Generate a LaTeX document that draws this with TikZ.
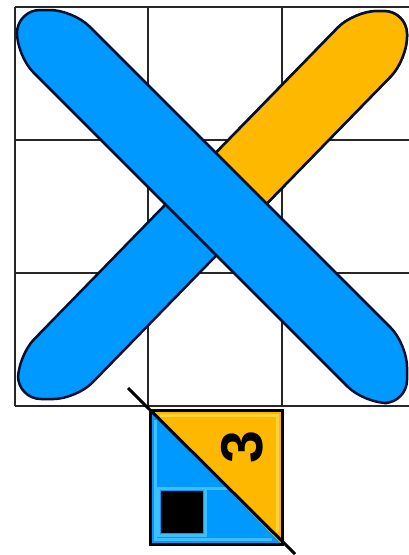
\documentclass[tikz,border=0pt]{standalone}
\usepackage{fontspec}
\newfontfamily\digitfont{Liberation Sans}
\definecolor{capblue}{RGB}{0,153,255}
\definecolor{caporange}{RGB}{255,184,0}
\definecolor{lightblue}{RGB}{60,190,255}
\definecolor{lightorange}{RGB}{255,212,50}
\definecolor{gridgray}{RGB}{38,38,38}
\definecolor{navy}{RGB}{5,15,50}
\tikzset{
  gridline/.style={draw=gridgray, line width=2.6pt},
  capblueshape/.style={fill=capblue, draw=navy, line width=2.5pt, rounded corners=23pt},
  caporangeshape/.style={fill=caporange, draw=navy, line width=2.5pt, rounded corners=23pt},
}
\begin{document}
\begin{tikzpicture}[x=1pt,y=-1pt]
\useasboundingbox (0,0) rectangle (408,555);
\fill[white] (0,0) rectangle (408,555);
% grid
\foreach \gx in {15,148,282,416} \draw[gridline] (\gx,7) -- (\gx,406);
\foreach \gy in {7,140,273,406} \draw[gridline] (15,\gy) -- (416,\gy);
% capsule 2 (bottom-left to top-right)
\def\captwo{(18,355.8) -- (18,399) -- (76.4,399) -- (407,59.8) -- (407,11) -- (354,11) -- cycle}
\path[capblueshape] \captwo;
\begin{scope}
  \clip (-20,-32) -- (500,488) -- (500,-120) -- (-20,-120) -- cycle;
  \path[caporangeshape] \captwo;
\end{scope}
% capsule 1 (top-left to bottom-right)
\path[capblueshape] (73,10) -- (17,10) -- (17,56) -- (364,403) -- (407,403) -- (407,344) -- cycle;
% bottom square
\coordinate (sqtl) at (150,410);
\coordinate (sqtr) at (282,410);
\coordinate (sqbl) at (150,544);
\coordinate (sqbr) at (282,544);
\fill[capblue] (sqtl) -- (sqbl) -- (sqbr) -- cycle;
\fill[caporange] (sqtl) -- (sqtr) -- (sqbr) -- cycle;
\draw[lightblue, line width=3pt] (155,420) -- (155,539) -- (272,539);
\draw[lightorange, line width=3pt] (160,415) -- (277,415) -- (277,532);
\draw[lightblue, line width=3pt] (156,488) -- (227,488);
\draw[lightblue, line width=3pt] (158.5,488.5) rectangle (205.5,535.5);
\fill[black] (161,491) rectangle (203,533);
\draw[black, line width=3pt] (sqtl) rectangle (sqbr);
\coordinate (dgA) at (128,388);
\coordinate (dgB) at (295,554);
\draw[black, line width=3pt] (dgA) -- (dgB);
\node[rotate=90, inner sep=0pt, font=\digitfont\bfseries\fontsize{59}{59}\selectfont] (three) at (242,447) {3};
\end{tikzpicture}
\end{document}
